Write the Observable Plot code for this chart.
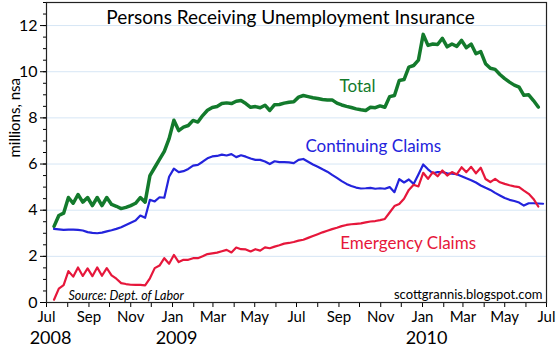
<!DOCTYPE html>
<html><head><meta charset="utf-8">
<script src="https://cdn.jsdelivr.net/npm/d3@7"></script>
<script src="https://cdn.jsdelivr.net/npm/@observablehq/plot@0.6"></script>
<style>
html,body{margin:0;padding:0;background:#fff;}
</style>
</head><body><div id="chart"></div>
<script>
// weekly observations, first week ending 2008-07-12
const firstWeek = "2008-07-12";
const total = [
  3.3, 3.77, 3.87, 4.55, 4.3, 4.68, 4.35, 4.55, 4.2, 4.55,
  4.2, 4.55, 4.25, 4.17, 4.07, 4.12, 4.2, 4.3, 4.55, 4.35,
  5.5, 5.85, 6.2, 6.55, 7.1, 7.9, 7.45, 7.6, 7.67, 7.89,
  7.82, 8.1, 8.33, 8.45, 8.49, 8.62, 8.65, 8.62, 8.72, 8.75,
  8.62, 8.46, 8.49, 8.44, 8.55, 8.32, 8.57, 8.58, 8.64, 8.68,
  8.7, 8.9, 8.97, 8.92, 8.87, 8.84, 8.8, 8.78, 8.78, 8.64,
  8.56, 8.5, 8.45, 8.39, 8.35, 8.32, 8.46, 8.44, 8.52, 8.46,
  8.92, 8.97, 9.62, 9.66, 10.2, 10.27, 10.5, 11.62, 11.14, 11.2,
  11.18, 11.45, 11.08, 11.2, 11.1, 11.36, 11.04, 11.2, 10.78, 10.87,
  10.35, 10.15, 10.1, 9.88, 9.7, 9.55, 9.42, 9.33, 8.98, 9.0,
  8.75, 8.47
];
const continuing = [
  3.19, 3.17, 3.15, 3.16, 3.16, 3.15, 3.12, 3.05, 3.02, 3.0,
  3.03, 3.08, 3.13, 3.19, 3.26, 3.36, 3.46, 3.55, 3.77, 3.67,
  4.45, 4.38, 4.56, 4.54, 5.45, 5.8, 5.65, 5.69, 5.79, 5.93,
  5.96, 6.1, 6.25, 6.33, 6.35, 6.41, 6.37, 6.43, 6.3, 6.38,
  6.32, 6.24, 6.18, 6.18, 6.11, 6.0, 6.12, 6.08, 6.08, 6.07,
  6.04, 6.18, 6.22, 6.1, 5.98, 5.88, 5.77, 5.67, 5.53, 5.4,
  5.26, 5.14, 5.05, 4.98, 4.94, 4.95, 4.97, 4.93, 4.95, 4.93,
  5.0, 4.78, 5.35, 5.2, 5.33, 5.14, 5.55, 5.98, 5.77, 5.6,
  5.65, 5.65, 5.6, 5.58, 5.56, 5.47, 5.38, 5.3, 5.2, 5.07,
  4.97, 4.88, 4.75, 4.64, 4.53, 4.45, 4.4, 4.33, 4.2, 4.3,
  4.3, 4.29, 4.28
];
const emergency = [
  0.12, 0.6, 0.75, 1.36, 1.12, 1.52, 1.15, 1.48, 1.14, 1.52,
  1.16, 1.49, 1.18, 1.03, 0.84, 0.8, 0.77, 0.76, 0.76, 0.74,
  1.05, 1.49, 1.6, 1.92, 1.68, 2.06, 1.75, 1.85, 1.85, 1.92,
  1.92, 2.0, 2.1, 2.13, 2.16, 2.22, 2.28, 2.17, 2.38, 2.31,
  2.3, 2.21, 2.31, 2.25, 2.39, 2.35, 2.42, 2.48, 2.55, 2.58,
  2.62, 2.68, 2.72, 2.8, 2.88, 2.96, 3.04, 3.11, 3.18, 3.24,
  3.31, 3.36, 3.39, 3.41, 3.43, 3.47, 3.51, 3.53, 3.57, 3.62,
  3.9, 4.18, 4.27, 4.5, 4.88, 5.1, 5.03, 5.62, 5.36, 5.65,
  5.47, 5.72, 5.5, 5.65, 5.55, 5.86, 5.65, 5.88, 5.6, 5.84,
  5.35, 5.22, 5.36, 5.21, 5.14, 5.08, 5.03, 5.0, 4.85, 4.71,
  4.49, 4.16
];
const yTicks = [0, 2, 4, 6, 8, 10, 12];
const monthLabelDates = ["2008-07-01","2008-09-01","2008-11-01","2009-01-01","2009-03-01","2009-05-01","2009-07-01","2009-09-01","2009-11-01","2010-01-01","2010-03-01","2010-05-01","2010-07-01"];
const monthLabels = ["Jul","Sep","Nov","Jan","Mar","May","Jul","Sep","Nov","Jan","Mar","May","Jul"];
const yearLabelDates = ["2008-07-01","2009-01-01","2010-01-01"];
const yearLabels = ["2008","2009","2010"];
const seriesNames = ["Total","Continuing Claims","Emergency Claims"];
const seriesColors = ["#137a2c","#2323dc","#e6173b"];
const labelDates = ["2009-09-28","2009-10-21","2009-12-11"];
const labelValues = [9.36, 6.76, 2.56];
const titleText = "Persons Receiving Unemployment Insurance";
const yLabel = "millions, nsa";
const sourceText = "Source: Dept. of Labor";
const creditText = "scottgrannis.blogspot.com";

const parse = d3.utcParse("%Y-%m-%d");
const start = parse(firstWeek);
const toRows = (arr) => arr.map((v, i) => ({date: d3.utcDay.offset(start, 7 * i), value: v}));
const rowsTotal = toRows(total);
const rowsCont = toRows(continuing);
const rowsEmerg = toRows(emergency);

const mDates = monthLabelDates.map(parse);
const mFmt = new Map(mDates.map((d, i) => [+d, monthLabels[i]]));
const yDates = yearLabelDates.map(parse);
const yFmt = new Map(yDates.map((d, i) => [+d, yearLabels[i]]));
const xDomain = [parse("2008-07-01"), parse("2010-07-01")];
const allMonths = d3.utcMonths(xDomain[0], d3.utcDay.offset(xDomain[1], 1));
const labels = seriesNames.map((n, i) => ({name: n, date: parse(labelDates[i]), value: labelValues[i], color: seriesColors[i]}));

const font = "Lato, 'Open Sans', sans-serif";

const chart = Plot.plot({
  width: 556,
  height: 356,
  marginLeft: 46,
  marginRight: 10,
  marginTop: 2,
  marginBottom: 54,
  style: {fontFamily: font, fontSize: "14px", color: "#000", background: "#fff"},
  x: {type: "utc", domain: xDomain},
  y: {domain: [0, 13]},
  marks: [
    Plot.gridY(yTicks.filter(d => d > 0), {stroke: "#d6e6f5", strokeOpacity: 1, strokeWidth: 1}),
    // minor y ticks
    Plot.axisY({ticks: d3.range(0, 13.01, 0.5), tickSize: 3, tickFormat: () => "", label: null}),
    Plot.axisY({ticks: yTicks, tickSize: 6, tickPadding: 3, fontSize: 16, label: null}),
    // monthly x ticks
    Plot.axisX({ticks: allMonths, tickSize: 5, tickFormat: () => "", label: null}),
    Plot.axisX({ticks: mDates, tickSize: 0, tickPadding: 9, fontSize: 15, tickFormat: d => mFmt.get(+d), label: null}),
    Plot.axisX({ticks: yDates, tickSize: 0, tickPadding: 29, fontSize: 18, dx: 4, tickFormat: d => yFmt.get(+d), label: null}),
    Plot.line(rowsTotal, {x: "date", y: "value", stroke: seriesColors[0], strokeWidth: 3.5}),
    Plot.line(rowsCont, {x: "date", y: "value", stroke: seriesColors[1], strokeWidth: 2.2}),
    Plot.line(rowsEmerg, {x: "date", y: "value", stroke: seriesColors[2], strokeWidth: 2.2}),
    Plot.text(labels, {x: "date", y: "value", text: "name", fill: "color", fontSize: 17}),
    Plot.text([titleText], {frameAnchor: "top", dx: -6, dy: 8, fontSize: 19, lineAnchor: "top"}),
    Plot.text([sourceText], {frameAnchor: "bottom-left", dx: 22, dy: -3, fontSize: 12.5, fontStyle: "italic", textAnchor: "start", lineAnchor: "bottom"}),
    Plot.text([creditText], {frameAnchor: "bottom-right", dx: -4, dy: -4, fontSize: 13, textAnchor: "end", lineAnchor: "bottom"}),
    Plot.text([yLabel], {frameAnchor: "left", dx: -31, dy: 5, rotate: -90, fontSize: 15}),
    Plot.frame({stroke: "#222", strokeWidth: 1.2})
  ]
});
document.getElementById("chart").appendChild(chart);
</script>
</body></html>
